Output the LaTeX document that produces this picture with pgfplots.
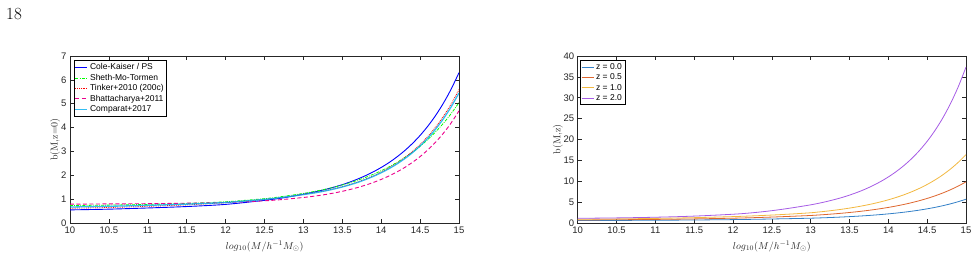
\documentclass[border=0pt]{standalone}
\usepackage{fontspec}
\setsansfont{Liberation Sans}
\usepackage{pgfplots}
\pgfplotsset{compat=1.18}
\definecolor{axgray}{rgb}{0.15,0.15,0.15}
\definecolor{mblue}{rgb}{0.2,0.5,0.78}
\definecolor{morange}{rgb}{0.87,0.4,0.18}
\definecolor{myellow}{rgb}{0.95,0.72,0.25}
\definecolor{mpurple}{rgb}{0.65,0.36,0.9}
\pgfplotsset{
  mystyle/.style={
    scale only axis,
    xmin=10, xmax=15,
    xtick={10,10.5,...,15},
    xticklabels={10,10.5,11,11.5,12,12.5,13,13.5,14,14.5,15},
    tick align=inside,
    major tick length=4pt,
    axis line style={axgray, line width=0.8pt},
    every tick/.style={axgray, line width=0.6pt},
    tick label style={font=\sffamily\fontsize{9.5}{10}\selectfont, text=axgray},
    /pgf/number format/assume math mode=true,
    xlabel={$log_{10}(M/h^{-1}M_{\odot})$},
    xlabel style={at={(axis description cs:0.5,-0.14)}, anchor=center, font=\fontsize{10}{12}\selectfont, text=axgray},
    ylabel style={anchor=center, font=\fontsize{10}{12}\selectfont, text=axgray},
    legend cell align=left,
    legend style={font=\sffamily\fontsize{8.5}{9.5}\selectfont, line width=0.6pt, inner sep=1pt, row sep=-1.2pt, anchor=north west},
    legend image code/.code={\draw[#1] (0pt,0pt) -- (12pt,0pt);},
    every axis plot/.append style={smooth},
  }
}
\begin{document}
\begin{tikzpicture}[x=1pt,y=1pt]
\useasboundingbox (0,0) rectangle (978,259);
\node[anchor=base west, inner sep=0pt] at (6,239) {\fontsize{17}{20}\selectfont 18};

\begin{axis}[mystyle, at={(70pt,36pt)}, anchor=south west,
  width=389pt, height=167pt,
  ymin=0, ymax=7, ytick={0,1,...,7},
  ylabel={b(M,z=0)},
  ylabel style={at={(axis description cs:-0.038,0.5)}},
  legend style={at={(axis description cs:0.009,0.974)}},
]
\addplot[blue, line width=0.9pt] coordinates {
(10,0.55) (10.5,0.58) (11,0.63) (11.5,0.69) (12,0.78) (12.5,0.95) (12.75,1.06) (13,1.21)
(13.1,1.273) (13.2,1.342) (13.3,1.421) (13.4,1.509) (13.5,1.608) (13.6,1.720) (13.7,1.846) (13.8,1.987) (13.9,2.147) (14,2.328)
(14.1,2.532) (14.2,2.764) (14.3,3.028) (14.4,3.328) (14.5,3.670) (14.6,4.062) (14.7,4.510) (14.8,5.025) (14.9,5.618) (15,6.303)};
\addlegendentry{Cole-Kaiser / PS}
\addplot[green, line width=0.8pt, dash pattern=on 3pt off 1.2pt on 0.8pt off 1.2pt] coordinates {
(10,0.73) (10.5,0.75) (11,0.78) (11.5,0.82) (12,0.89) (12.5,1.02) (12.75,1.12) (13,1.24)
(13.1,1.297) (13.2,1.360) (13.3,1.430) (13.4,1.508) (13.5,1.594) (13.6,1.690) (13.7,1.796) (13.8,1.914) (13.9,2.045) (14,2.191)
(14.1,2.353) (14.2,2.535) (14.3,2.737) (14.4,2.963) (14.5,3.217) (14.6,3.502) (14.7,3.822) (14.8,4.182) (14.9,4.589) (15,5.048)};
\addlegendentry{Sheth-Mo-Tormen}
\addplot[red, line width=0.8pt, dash pattern=on 0.8pt off 1pt] coordinates {
(10,0.62) (10.5,0.65) (11,0.7) (11.5,0.76) (12,0.85) (12.5,0.99) (12.75,1.08) (13,1.2)
(13.1,1.249) (13.2,1.305) (13.3,1.368) (13.4,1.441) (13.5,1.523) (13.6,1.617) (13.7,1.723) (13.8,1.842) (13.9,1.978) (14,2.133)
(14.1,2.308) (14.2,2.507) (14.3,2.734) (14.4,2.993) (14.5,3.290) (14.6,3.631) (14.7,4.022) (14.8,4.473) (14.9,4.993) (15,5.596)};
\addlegendentry{Tinker+2010 (200c)}
\addplot[magenta, line width=0.9pt, dash pattern=on 4pt off 2.5pt] coordinates {
(10,0.79) (10.5,0.8) (11,0.81) (11.5,0.83) (12,0.86) (12.5,0.93) (12.75,0.99) (13,1.07)
(13.1,1.108) (13.2,1.152) (13.3,1.203) (13.4,1.262) (13.5,1.328) (13.6,1.404) (13.7,1.490) (13.8,1.588) (13.9,1.700) (14,1.827)
(14.1,1.971) (14.2,2.136) (14.3,2.323) (14.4,2.538) (14.5,2.784) (14.6,3.066) (14.7,3.391) (14.8,3.765) (14.9,4.199) (15,4.701)};
\addlegendentry{Bhattacharya+2011}
\addplot[cyan, line width=1.3pt, opacity=0.8] coordinates {
(10,0.67) (10.5,0.7) (11,0.74) (11.5,0.79) (12,0.86) (12.5,0.99) (12.75,1.08) (13,1.19)
(13.1,1.239) (13.2,1.294) (13.3,1.357) (13.4,1.429) (13.5,1.510) (13.6,1.602) (13.7,1.705) (13.8,1.823) (13.9,1.956) (14,2.107)
(14.1,2.277) (14.2,2.471) (14.3,2.692) (14.4,2.944) (14.5,3.232) (14.6,3.561) (14.7,3.938) (14.8,4.373) (14.9,4.873) (15,5.452)};
\addlegendentry{Comparat+2017}
\end{axis}

\begin{axis}[mystyle, at={(577.7pt,36pt)}, anchor=south west,
  width=388.3pt, height=167pt,
  ymin=0, ymax=40, ytick={0,5,...,40},
  ylabel={b(M,z)},
  ylabel style={at={(axis description cs:-0.051,0.5)}},
  legend style={at={(axis description cs:0.006,0.974)}},
]
\addplot[mblue, line width=0.8pt] coordinates {
(10,0.6) (10.5,0.62) (11,0.66) (11.5,0.72) (12,0.81) (12.25,0.88) (12.5,0.96) (12.75,1.05) (13,1.15)
(13.1,1.209) (13.2,1.275) (13.3,1.349) (13.4,1.432) (13.5,1.524) (13.6,1.628) (13.7,1.744) (13.8,1.875) (13.9,2.021) (14,2.186)
(14.1,2.372) (14.2,2.582) (14.3,2.819) (14.4,3.088) (14.5,3.393) (14.6,3.740) (14.7,4.135) (14.8,4.587) (14.9,5.104) (15,5.70)};
\addlegendentry{z = 0.0}
\addplot[morange, line width=0.8pt] coordinates {
(10,0.72) (10.5,0.78) (11,0.86) (11.5,0.98) (12,1.15) (12.25,1.27) (12.5,1.42) (12.75,1.6) (13,1.8)
(13.1,1.916) (13.2,2.043) (13.3,2.184) (13.4,2.341) (13.5,2.515) (13.6,2.708) (13.7,2.924) (13.8,3.164) (13.9,3.432) (14,3.732)
(14.1,4.068) (14.2,4.445) (14.3,4.869) (14.4,5.346) (14.5,5.884) (14.6,6.492) (14.7,7.180) (14.8,7.960) (14.9,8.846) (15,9.855)};
\addlegendentry{z = 0.5}
\addplot[myellow, line width=0.8pt] coordinates {
(10,0.9) (10.5,0.98) (11,1.1) (11.5,1.28) (12,1.53) (12.25,1.7) (12.5,1.9) (12.75,2.15) (13,2.45)
(13.1,2.63) (13.2,2.825) (13.3,3.046) (13.4,3.293) (13.5,3.569) (13.6,3.879) (13.7,4.226) (13.8,4.617) (13.9,5.057) (14,5.553)
(14.1,6.115) (14.2,6.751) (14.3,7.473) (14.4,8.294) (14.5,9.229) (14.6,10.30) (14.7,11.52) (14.8,12.92) (14.9,14.53) (15,16.38)};
\addlegendentry{z = 1.0}
\addplot[mpurple, line width=0.8pt] coordinates {
(10,1.12) (10.5,1.22) (11,1.38) (11.5,1.65) (12,2.1) (12.25,2.45) (12.5,2.95) (12.75,3.6) (13,4.35)
(13.1,4.71) (13.2,5.12) (13.3,5.58) (13.4,6.09) (13.5,6.68) (13.6,7.34) (13.7,8.09) (13.8,8.95) (13.9,9.92) (14,11.03)
(14.1,12.30) (14.2,13.75) (14.3,15.42) (14.4,17.35) (14.5,19.57) (14.6,22.14) (14.7,25.12) (14.8,28.59) (14.9,32.62) (15,37.34)};
\addlegendentry{z = 2.0}
\end{axis}
\end{tikzpicture}
\end{document}
